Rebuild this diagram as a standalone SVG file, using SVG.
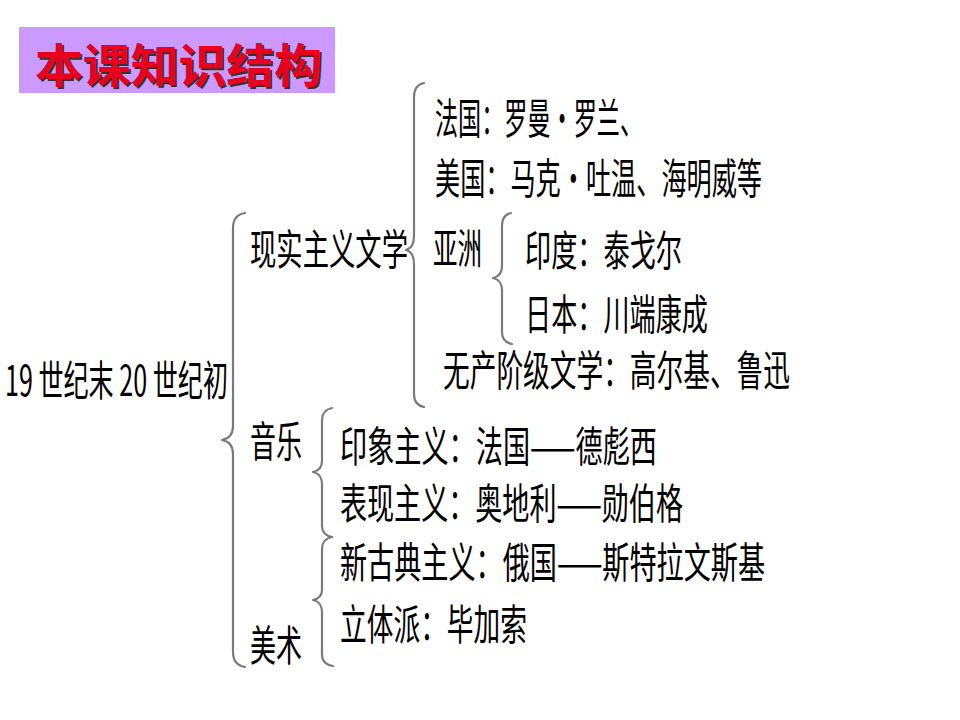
<svg xmlns="http://www.w3.org/2000/svg" width="960" height="720" viewBox="0 0 960 720">
<style>
.t{font-family:"Noto Sans CJK SC","Liberation Sans",sans-serif;font-size:42px;fill:#000;dominant-baseline:central;}
.br{fill:none;stroke:#7a7a7a;stroke-width:2.2;stroke-linecap:round;stroke-linejoin:round;}
.title{font-family:"Noto Sans CJK SC","Liberation Sans",sans-serif;font-size:46px;font-weight:bold;dominant-baseline:central;}
</style>
<rect width="960" height="720" fill="#fff"/>
<g id="title">
<rect x="19" y="27" width="316" height="66" fill="#cc99ff"/>
<text class="title" x="37" y="64" textLength="287" lengthAdjust="spacingAndGlyphs" fill="#333">本课知识结构</text>
<text class="title" x="35" y="62" textLength="287" lengthAdjust="spacingAndGlyphs" fill="#e8001c">本课知识结构</text>
</g>
<g id="connectors">
<path class="br" d="M245,213 Q233,215 233,228 L233,426 Q233,438 222,440 Q233,442 233,454 L233,652 Q233,665 245,667"/>
<path class="br" d="M424,83 Q414,85 414,97 L414,236 Q414,248 406,250 Q414,252 414,264 L414,394 Q414,405 424,407"/>
<path class="br" d="M511,213 Q502,215 502,225 L502,266 Q502,276 493,278 Q502,280 502,290 L502,332 Q502,342 512,344"/>
<path class="br" d="M332,408 Q322,410 322,420 L322,461 Q322,470 313,472 Q322,474 322,484 L322,526 Q322,535 332,537"/>
<path class="br" d="M332,537 Q322,539 322,549 L322,590 Q322,598 313,600 Q322,602 322,612 L322,655 Q322,664 333,666"/>
</g>
<g id="root"><text class="t" x="5" y="377" textLength="223" lengthAdjust="spacingAndGlyphs">19 世纪末 20 世纪初</text></g>
<g id="realism"><text class="t" x="250" y="246" textLength="158" lengthAdjust="spacingAndGlyphs">现实主义文学</text></g>
<g id="france"><text class="t" x="435" y="115" textLength="208" lengthAdjust="spacingAndGlyphs">法国：罗曼·罗兰、</text></g>
<g id="usa"><text class="t" x="435" y="175" textLength="327" lengthAdjust="spacingAndGlyphs">美国：马克·吐温、海明威等</text></g>
<g id="asia"><text class="t" x="433" y="245" textLength="49" lengthAdjust="spacingAndGlyphs">亚洲</text></g>
<g id="india"><text class="t" x="525" y="247" textLength="157" lengthAdjust="spacingAndGlyphs">印度：泰戈尔</text></g>
<g id="japan"><text class="t" x="525" y="311" textLength="183" lengthAdjust="spacingAndGlyphs">日本：川端康成</text></g>
<g id="proletarian"><text class="t" x="443" y="367" textLength="347" lengthAdjust="spacingAndGlyphs">无产阶级文学：高尔基、鲁迅</text></g>
<g id="music"><text class="t" x="250" y="438" textLength="52" lengthAdjust="spacingAndGlyphs">音乐</text></g>
<g id="impressionism"><text class="t" x="340" y="443" textLength="317" lengthAdjust="spacingAndGlyphs">印象主义：法国——德彪西</text></g>
<g id="expressionism"><text class="t" x="340" y="500" textLength="343" lengthAdjust="spacingAndGlyphs">表现主义：奥地利——勋伯格</text></g>
<g id="neoclassicism"><text class="t" x="340" y="559" textLength="425" lengthAdjust="spacingAndGlyphs">新古典主义：俄国——斯特拉文斯基</text></g>
<g id="cubism"><text class="t" x="340" y="621" textLength="187" lengthAdjust="spacingAndGlyphs">立体派：毕加索</text></g>
<g id="art"><text class="t" x="250" y="642" textLength="52" lengthAdjust="spacingAndGlyphs">美术</text></g>
</svg>
